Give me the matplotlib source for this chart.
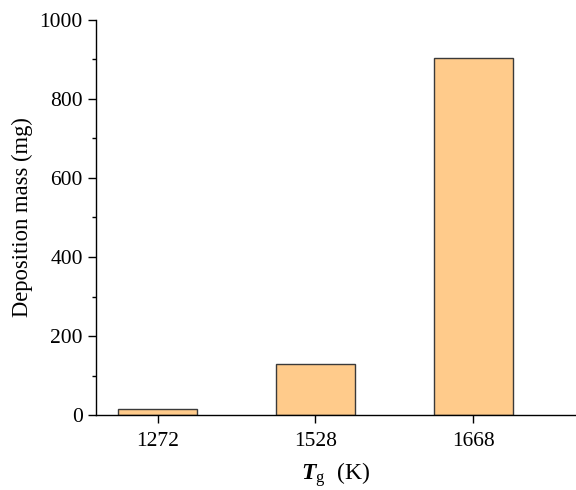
import matplotlib.pyplot as plt
from matplotlib.ticker import MultipleLocator

plt.rcParams['font.family'] = 'Liberation Serif'
plt.rcParams['mathtext.fontset'] = 'custom'
plt.rcParams['mathtext.rm'] = 'Liberation Serif'
plt.rcParams['mathtext.it'] = 'Liberation Serif:italic'
plt.rcParams['mathtext.bf'] = 'Liberation Serif:bold'
plt.rcParams['mathtext.bfit'] = 'Liberation Serif:bold:italic'

temps = ['1272', '1528', '1668']
mass = [15, 129, 904]

fig = plt.figure(figsize=(5.76, 4.9), dpi=100)
ax = fig.add_axes([96 / 576, 75 / 490, 1 - 96 / 576, 395 / 490])

x = range(len(temps))
ax.bar(x, mass, width=0.5, color='#FFCB8B', edgecolor='#3a3a3a', linewidth=1.0)

ax.set_xlim(-0.39, 2.65)
ax.set_ylim(0, 1000)
ax.set_xticks(list(x))
ax.set_xticklabels(temps)
ax.yaxis.set_major_locator(MultipleLocator(200))
ax.yaxis.set_minor_locator(MultipleLocator(100))

for side in ['top', 'right']:
    ax.spines[side].set_visible(False)
for side in ['left', 'bottom']:
    ax.spines[side].set_linewidth(1.0)

ax.tick_params(axis='both', which='major', direction='out', length=6, width=1.0, labelsize=15.5)
ax.tick_params(axis='x', which='major', pad=6)
ax.tick_params(axis='y', which='minor', direction='out', length=3, width=1.0)

ax.set_ylabel('Deposition mass (mg)', fontsize=16.3, labelpad=5)
ax.set_xlabel(r'$\boldsymbol{T}_{\mathrm{g}}$  (K)', fontsize=17, labelpad=7)

fig.savefig('out.png', dpi=100)
